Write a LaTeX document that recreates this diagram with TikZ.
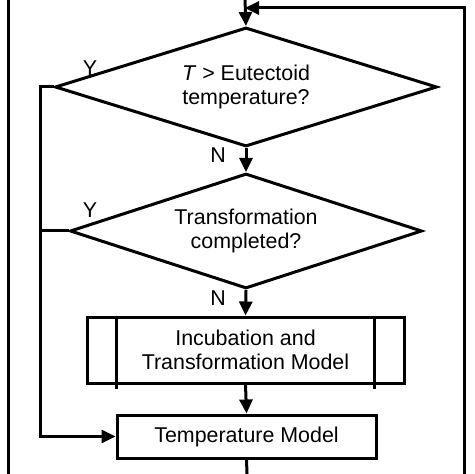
\documentclass[tikz,border=0pt]{standalone}
\usepackage{fontspec}
\setmainfont{Liberation Sans}
\usetikzlibrary{shapes.geometric,arrows.meta}

\tikzset{
  decision/.style={draw, diamond, aspect=3.2, inner sep=0pt, align=center},
  procbox/.style={draw, rectangle, inner sep=0pt, align=center},
  flow/.style={-{Triangle[length=7pt,width=6.5pt]}},
}

\begin{document}
\begin{tikzpicture}[x=0.5pt, y=-0.5pt, line width=1.5pt, font=\fontsize{10.7}{12.2}\selectfont]
  \useasboundingbox (0,0) rectangle (474,474);

  % the two checks
  \node[decision, minimum width=191pt, minimum height=59.5pt] (eut) at (246,87)
    {\textit{T} > Eutectoid\\temperature?};
  \node[decision, minimum width=176pt, minimum height=57.5pt] (done) at (246,231)
    {Transformation\\completed?};

  % the two models
  \node[procbox, minimum width=158.5pt, minimum height=33pt] (incub) at (245.5,350)
    {Incubation and\\Transformation Model};
  \node[procbox, minimum width=129.5pt, minimum height=21.5pt] (temp) at (246.5,436.5)
    {Temperature Model};
  \draw ([xshift=15.5pt]incub.north west) -- ([xshift=15.5pt,yshift=-2pt]incub.south west);
  \draw ([xshift=-15.5pt]incub.north east) -- ([xshift=-15.5pt,yshift=-2pt]incub.south east);

  % loose ends of the outer loops
  \coordinate (topin) at (245,0);
  \coordinate (loopbot) at (464,474);
  \coordinate (looptop) at (464,8);
  \coordinate (loopend) at (245,8);
  \coordinate (outbot) at (247,474);
  \coordinate (lefttop) at (8,0);
  \coordinate (leftbot) at (8,474);

  \draw[flow] (topin) -- (eut.north);
  \draw[flow] (loopbot) -- (looptop) -- (loopend);
  \draw (lefttop) -- (leftbot);

  % main path
  \draw[flow] (eut.south) -- (done.north);
  \draw[flow] (done.south) -- (incub.north);
  \draw[flow] (incub.south) -- (temp.north);
  \draw (temp.south) -- (outbot);

  % yes branches
  \draw[flow] (eut.west) -- (40,87) -- (40,436.5) -- (temp.west);
  \draw (done.west) -- (40,231);

  % branch labels
  \node (y1) at (90,68) {Y};
  \node (n1) at (218,155) {N};
  \node (y2) at (90,210) {Y};
  \node (n2) at (218,298) {N};
\end{tikzpicture}
\end{document}
